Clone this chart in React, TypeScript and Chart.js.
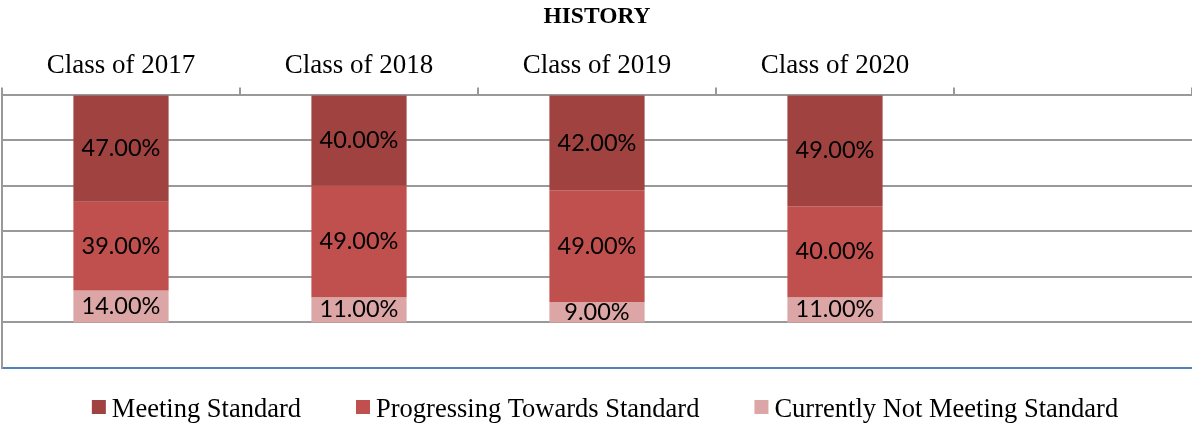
import React, { useEffect, useRef } from 'react';
import { Chart, registerables } from 'chart.js';

Chart.register(...registerables);

const chartTitle = 'HISTORY';
const categories = ['Class of 2017', 'Class of 2018', 'Class of 2019', 'Class of 2020', ''];
const seriesNames = ['Meeting Standard', 'Progressing Towards Standard', 'Currently Not Meeting Standard'];
const meetingStandard = [47, 40, 42, 49, null];
const progressingTowards = [39, 49, 49, 40, null];
const notMeeting = [14, 11, 9, 11, null];
const seriesColors = ['#9F4240', '#C0504D', '#DBA6A5'];
const yMin = 0;
const yMax = 120;
const yStep = 20;

const serif = '"Liberation Serif", "Times New Roman", serif';
const labelFont = 'Lato, "Open Sans", sans-serif';

const segmentLabels = {
  id: 'segmentLabels',
  afterDatasetsDraw(chart: any) {
    const ctx = chart.ctx;
    ctx.save();
    ctx.font = `23.5px ${labelFont}`;
    ctx.fillStyle = '#000';
    ctx.textAlign = 'center';
    ctx.textBaseline = 'middle';
    chart.data.datasets.forEach((ds: any, di: number) => {
      const meta = chart.getDatasetMeta(di);
      meta.data.forEach((el: any, i: number) => {
        const v = ds.data[i];
        if (v == null) return;
        const p = el.getProps(['x', 'y', 'base'], true);
        ctx.fillText(v.toFixed(2) + '%', p.x, (p.y + p.base) / 2);
      });
    });
    ctx.restore();
  },
};

const customLegend = {
  id: 'customLegend',
  afterDraw(chart: any) {
    const ctx = chart.ctx;
    ctx.save();
    ctx.font = `26.5px ${serif}`;
    const box = 14;
    const gapBox = 6;
    const gapItem = 55;
    const items = chart.data.datasets.map((ds: any) => ({
      text: ds.label,
      color: ds.backgroundColor,
      w: ctx.measureText(ds.label).width,
    }));
    const total =
      items.reduce((s: number, it: any) => s + box + gapBox + it.w, 0) + gapItem * (items.length - 1);
    let x = chart.width / 2 + 9 - total / 2;
    const boxTop = chart.height - 24;
    const baseline = chart.height - 7;
    ctx.textBaseline = 'alphabetic';
    ctx.textAlign = 'left';
    items.forEach((it: any) => {
      ctx.fillStyle = it.color;
      ctx.fillRect(x, boxTop, box, box);
      ctx.fillStyle = '#000';
      ctx.fillText(it.text, x + box + gapBox, baseline);
      x += box + gapBox + it.w + gapItem;
    });
    ctx.restore();
  },
};

export default function App() {
  const ref = useRef<HTMLCanvasElement>(null);
  useEffect(() => {
    if (!ref.current) return;
    const values = [meetingStandard, progressingTowards, notMeeting];
    const chart = new Chart(ref.current, {
      type: 'bar',
      data: {
        labels: categories,
        datasets: seriesNames.map((name, i) => ({
          label: name,
          data: values[i],
          backgroundColor: seriesColors[i],
          borderWidth: 0,
          categoryPercentage: 1,
          barPercentage: 0.4,
        })),
      },
      options: {
        responsive: false,
        animation: false,
        layout: { padding: { left: 2, right: 0, top: 0, bottom: 56 } },
        plugins: {
          legend: { display: false },
          tooltip: { enabled: false },
          title: {
            display: true,
            text: chartTitle,
            color: '#000',
            font: { family: serif, size: 23.5, weight: 'bold' },
            padding: { top: 3, bottom: 14 },
          },
        },
        scales: {
          x: {
            position: 'top',
            stacked: true,
            grid: {
              display: true,
              drawOnChartArea: false,
              drawTicks: true,
              tickLength: 7,
              color: '#999',
              lineWidth: 2,
              offset: true,
            },
            border: { display: true, color: '#999', width: 2 },
            ticks: {
              color: '#000',
              font: { family: serif, size: 27 },
              padding: 5,
              autoSkip: false,
              maxRotation: 0,
            },
          },
          y: {
            stacked: true,
            min: yMin,
            max: yMax,
            reverse: true,
            ticks: { display: false, stepSize: yStep },
            grid: {
              drawTicks: false,
              lineWidth: 2,
              color: (c: any) => (c.tick && c.tick.value === yMax ? '#4F81BD' : '#999'),
            },
            border: { display: true, color: '#999', width: 2 },
          },
        },
      },
      plugins: [segmentLabels, customLegend],
    });
    return () => chart.destroy();
  }, []);
  return (
    <div style={{ position: 'absolute', left: 0, top: 0, width: 1192, height: 424, background: '#fff' }}>
      <canvas ref={ref} width={1192} height={424} />
    </div>
  );
}
